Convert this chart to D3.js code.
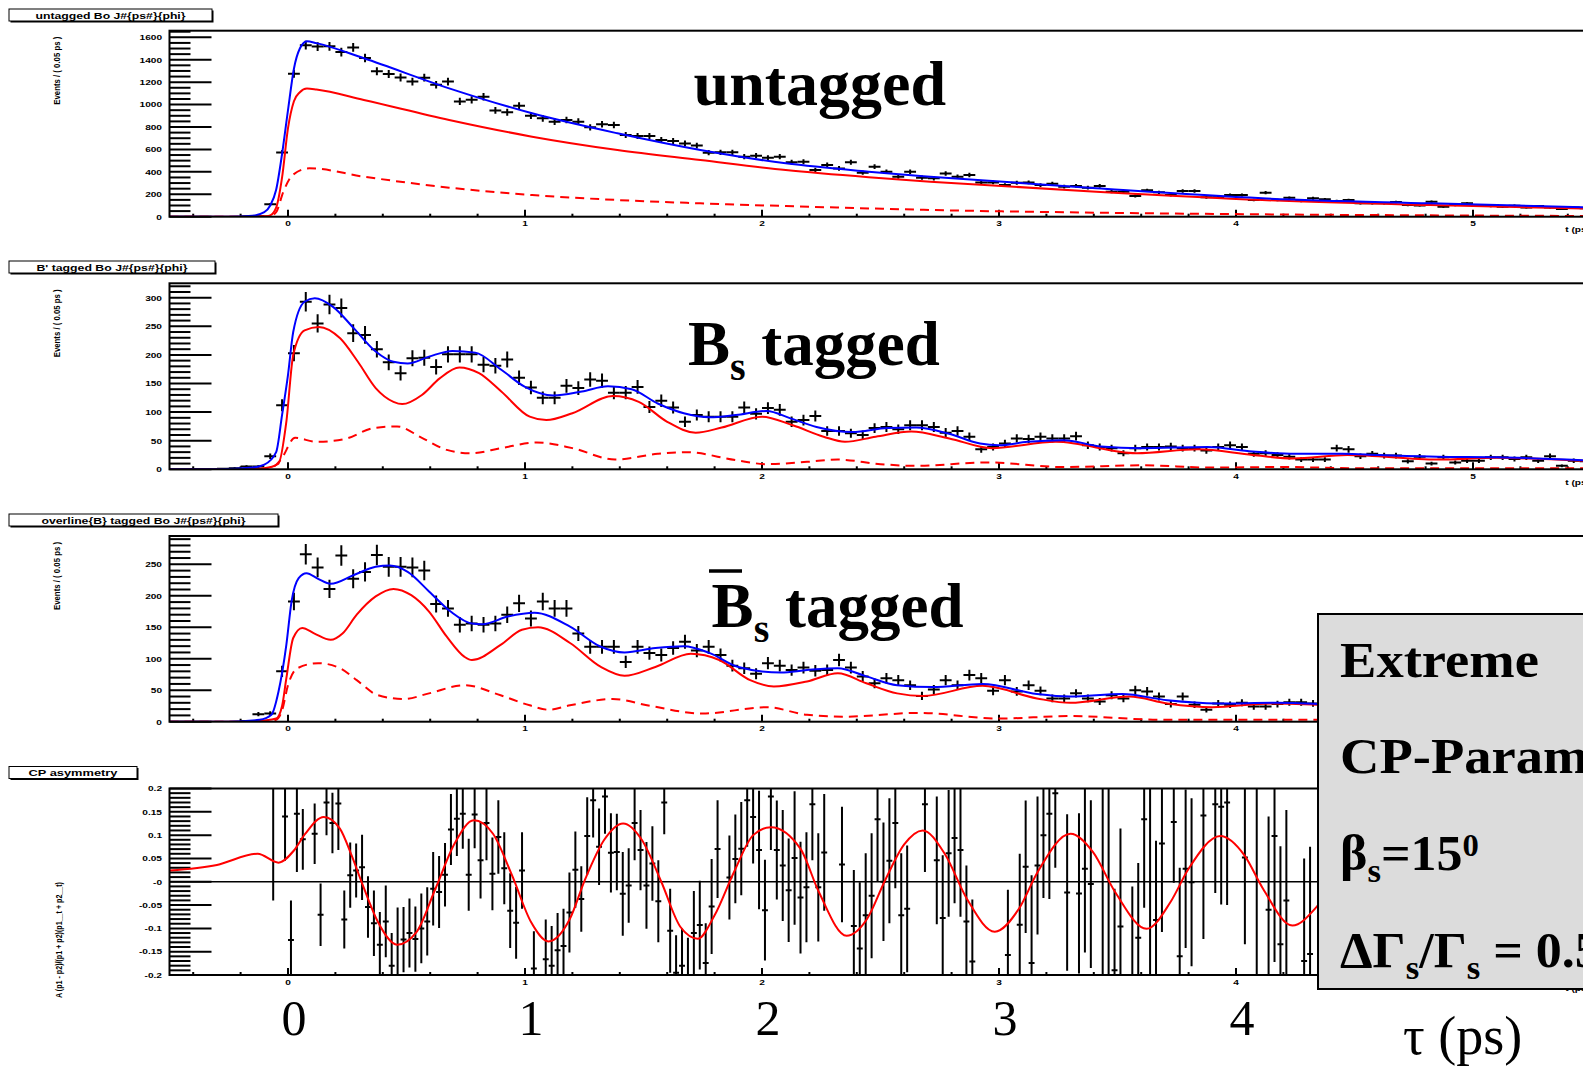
<!DOCTYPE html>
<html>
<head>
<meta charset="utf-8">
<script src="https://cdn.jsdelivr.net/npm/d3@7"></script>
<style>
body { margin: 0; background: #fff; overflow: hidden; }
</style>
</head>
<body>
<div id="chart"></div>
<script>
// histogram binning (0.05 ps bins from -0.5) and counts
var binStart = -0.5, binWidth = 0.05;
var untaggedCounts = [0,0,0,0,0,0,1,
  5,110,572,1275,1530,1517,1520,1468,1510,1415,1297,1272,1242,1205,1240,1177,1205,1028,1043,1070,948,932,990,
  901,877,848,863,848,797,824,818,729,720,720,684,675,654,634,571,574,574,535,544,
  526,535,485,491,416,461,431,485,393,446,402,357,402,348,342,386,357,372,306,306,
  282,303,306,282,294,268,274,259,274,223,223,185,235,217,193,229,229,173,173,193,
  193,149,214,149,168,140,165,155,140,149,119,119,119,131,104,101,134,89,104,119,
  104,95,89,98,83,95,83,68,83,75];
var bsCounts = [0,0,0,0,1,
  2,5,5,23,112,203,293,255,288,282,238,235,210,187,168,194,195,179,201,201,201,183,181,192,160,
  143,125,125,146,142,157,155,134,134,144,109,120,108,83,95,92,92,92,108,97,
  107,104,83,86,93,67,67,63,60,72,74,70,77,77,74,64,67,57,35,39,
  45,54,53,57,54,54,58,42,39,37,28,37,39,39,40,37,37,33,39,42,
  39,27,28,25,22,17,17,17,37,35,23,27,24,24,14,22,10,21,12,15,
  15,21,21,18,21,15,23,6,15,14];
var bsbarCounts = [0,0,0,0,0,0,1,
  12,13,80,191,266,245,211,264,227,238,265,246,246,245,240,187,180,154,156,154,156,170,188,
  164,191,180,180,140,119,119,119,95,119,109,106,117,127,113,119,106,89,85,76,
  93,89,82,86,81,82,98,86,72,61,69,66,58,41,51,66,58,74,69,49,
  66,48,58,49,37,37,45,37,32,42,37,50,48,40,28,40,27,19,29,27,
  30,24,24,28,31,31,29];

// fit curves: [t, value] knots
var untaggedTotal = [[-0.5,0],[-0.25,0],[-0.15,8],[-0.1,40],[-0.075,100],[-0.05,240],[-0.025,560],[0,950],[0.025,1320],[0.05,1500],[0.08,1565],[0.12,1548],[0.32,1413],[0.68,1145],[1.03,922],[1.39,744],[1.74,595],[2.1,476],[2.45,402],[2.71,357],[3.41,253],[4.11,164],[4.82,119],[5.5,82]];
var untaggedEven = [[-0.5,0],[-0.2,0],[-0.1,3],[-0.075,12],[-0.05,80],[-0.025,350],[0,790],[0.025,1030],[0.05,1110],[0.08,1143],[0.12,1135],[0.32,1041],[0.68,863],[1.03,714],[1.39,595],[1.74,506],[2.1,416],[2.45,352],[2.71,312],[3.41,223],[4.11,149],[4.82,104],[5.5,71]];
var untaggedOdd = [[-0.5,0],[-0.15,0],[-0.075,5],[-0.05,40],[-0.02,220],[0.02,372],[0.09,432],[0.32,357],[0.68,259],[1.03,193],[1.39,149],[1.74,119],[2.1,95],[2.45,74],[2.71,60],[3.41,36],[4.11,21],[4.82,12],[5.5,6]];

var bsTotal = [[-0.5,0],[-0.3,0],[-0.15,3],[-0.1,8],[-0.05,30],[-0.025,95],[0,165],[0.022,240],[0.07,293],[0.113,299],[0.19,284],[0.279,246],[0.37,206],[0.445,188],[0.505,185],[0.595,197],[0.694,207],[0.79,204],[0.9,174],[1.0,144],[1.12,129],[1.24,136],[1.35,145],[1.45,140],[1.56,115],[1.67,98],[1.78,91],[1.89,95],[2.02,102],[2.12,89],[2.23,74],[2.38,65],[2.53,72],[2.65,73],[2.79,62],[2.92,45],[3.0,42],[3.12,48],[3.27,51],[3.43,40],[3.6,37],[3.88,39],[4.07,31],[4.25,27],[4.45,27],[4.6,25],[4.85,22],[5.1,21],[5.5,15]];
var bsEven = [[-0.5,0],[-0.2,0],[-0.1,2],[-0.04,10],[-0.007,83],[0.022,200],[0.07,243],[0.13,249],[0.22,229],[0.295,188],[0.37,142],[0.445,118],[0.482,114],[0.565,130],[0.64,159],[0.723,178],[0.806,168],[0.9,136],[1.02,92],[1.09,86],[1.2,98],[1.37,128],[1.48,118],[1.6,83],[1.72,64],[1.83,73],[2.0,92],[2.13,77],[2.26,57],[2.35,48],[2.48,57],[2.63,66],[2.79,54],[2.97,37],[3.24,48],[3.58,28],[3.84,35],[4.07,25],[4.24,19],[4.47,25],[4.85,17],[5.1,20],[5.5,14]];
var bsOdd = [[-0.5,0],[-0.12,0],[-0.06,5],[-0.03,17],[0.03,55],[0.12,48],[0.24,53],[0.36,72],[0.46,75],[0.565,55],[0.67,34],[0.77,28],[0.9,37],[1.05,47],[1.2,37],[1.38,17],[1.56,27],[1.68,30],[1.89,16],[2.02,9],[2.19,13],[2.32,17],[2.5,9],[2.65,6],[2.95,12],[3.27,4],[3.6,7],[3.9,3],[4.2,4],[4.5,2],[5.5,2]];

var bsbarTotal = [[-0.5,0],[-0.25,0],[-0.12,3],[-0.07,11],[-0.04,48],[-0.007,122],[0.015,191],[0.045,228],[0.078,236],[0.127,227],[0.18,219],[0.278,233],[0.37,246],[0.43,248],[0.505,238],[0.595,207],[0.686,175],[0.776,156],[0.82,155],[0.927,167],[1.04,173],[1.19,151],[1.32,119],[1.42,110],[1.55,117],[1.67,120],[1.78,109],[1.9,87],[2.08,78],[2.19,82],[2.32,85],[2.44,72],[2.57,58],[2.72,55],[2.93,60],[3.16,44],[3.3,40],[3.52,44],[3.71,34],[3.92,29],[4.17,30],[4.4,27]];
var bsbarEven = [[-0.5,0],[-0.2,0],[-0.1,2],[-0.05,5],[-0.025,25],[-0.007,69],[0.022,133],[0.06,149],[0.112,140],[0.18,130],[0.23,140],[0.29,170],[0.37,199],[0.445,211],[0.52,201],[0.595,175],[0.67,135],[0.745,103],[0.776,98],[0.897,122],[0.987,146],[1.055,150],[1.19,125],[1.32,87],[1.42,73],[1.55,87],[1.7,108],[1.82,98],[1.95,66],[2.05,56],[2.19,64],[2.32,77],[2.44,61],[2.57,45],[2.68,41],[2.93,57],[3.16,37],[3.3,30],[3.55,40],[3.71,29],[3.9,23],[4.15,29],[4.4,26]];
var bsbarOdd = [[-0.5,0],[-0.1,0],[-0.05,3],[-0.025,18],[0.0,58],[0.04,85],[0.127,93],[0.22,85],[0.29,66],[0.38,42],[0.49,36],[0.595,45],[0.745,58],[0.897,42],[1.02,26],[1.1,19],[1.19,26],[1.37,36],[1.53,25],[1.75,13],[2.02,23],[2.19,11],[2.35,8],[2.66,14],[3.0,5],[3.3,9],[3.69,3],[4.4,3]];

// CP asymmetry: 0.025 ps bins starting at -0.075, null = no marker
var asymStart = -0.075, asymWidth = 0.025;
var asymValues = [0.22,null,0.14,-0.125,0.146,0.091,null,0.103,-0.071,0.17,
  0.126,0.168,-0.081,0.014,0.024,0.031,-0.054,-0.089,-0.135,-0.085,
  -0.18,-0.22,-0.124,-0.11,-0.123,-0.1,-0.085,-0.015,-0.022,0.015,
  0.112,0.135,0.146,0.015,0.144,0.046,0.126,0.017,0.096,0.029,
  -0.062,-0.088,0.024,null,-0.186,null,-0.166,-0.18,-0.147,-0.138,
  -0.066,0.026,-0.037,0.098,0.175,0.075,0.183,0.062,0.064,-0.026,
  -0.008,0.126,0.068,-0.008,0.039,-0.042,0.17,-0.105,-0.195,-0.18,
  -0.21,-0.11,-0.093,-0.174,-0.053,0.07,null,0.009,0.049,0.071,
  0.175,0.139,0.068,-0.061,0.183,0.068,0.035,-0.018,0.051,-0.034,
  -0.012,0.166,-0.012,0.063,null,null,0.037,null,-0.095,-0.143,
  -0.072,-0.03,0.134,0.0,0.045,0.126,-0.072,-0.058,null,null,
  0.166,null,0.046,-0.078,0.061,0.094,0.068,-0.085,-0.171,null,
  null,null,null,null,-0.157,null,-0.092,0.032,-0.174,0.035,
  0.1,0.146,0.19,null,-0.023,null,-0.025,0.028,-0.005,null,
  0.21,0.21,-0.19,-0.096,null,-0.22,-0.12,0.134,0.21,-0.082,
  0.082,null,0.128,-0.16,0.028,-0.001,null,0.142,null,0.166,
  0.161,0.17,null,null,0.052,null,0.21,null,-0.06,0.098,
  -0.134,-0.04,null,null,-0.17,-0.155];
var asymErrors = [0.26,null,0.095,0.085,0.125,0.065,null,0.065,0.067,0.07,
  0.065,0.1,0.062,0.07,0.058,0.07,0.066,0.07,0.07,0.077,
  0.07,0.165,0.07,0.074,0.07,0.075,0.073,0.079,0.077,0.068,
  0.076,0.08,0.075,0.077,0.072,0.082,0.08,0.078,0.079,0.077,
  0.08,0.077,0.082,null,0.08,null,0.085,0.085,0.08,0.08,
  0.086,0.082,0.07,0.083,0.08,0.082,0.08,0.085,0.082,0.09,
  0.08,0.08,0.086,0.093,0.08,0.088,0.068,0.09,0.08,0.08,
  0.09,0.09,0.095,0.085,0.102,0.105,null,0.09,0.095,0.1,
  0.1,0.1,0.127,0.108,0.115,0.106,0.119,0.111,0.143,0.12,
  0.118,0.12,0.116,0.125,null,null,0.124,null,0.12,0.142,
  0.133,0.134,0.133,0.127,0.134,0.14,0.133,0.136,null,null,
  0.145,null,0.137,0.135,0.136,0.14,0.143,0.12,0.133,null,
  null,null,null,null,0.14,null,0.152,0.142,0.188,0.148,
  0.135,0.183,0.16,null,0.168,null,0.172,0.18,0.18,null,
  0.45,0.45,0.175,0.21,null,0.21,0.16,0.19,0.45,0.17,
  0.19,null,0.13,0.19,0.17,0.18,null,0.265,null,0.19,
  0.21,0.22,null,null,0.186,null,0.45,null,0.2,0.27,
  0.21,0.194,null,null,0.22,0.23];
var asymCurve = [[-0.5,0.024],[-0.3,0.036],[-0.128,0.06],[-0.04,0.041],[0.025,0.067],[0.073,0.103],[0.151,0.139],[0.219,0.114],[0.268,0.057],[0.316,-0.008],[0.38,-0.087],[0.461,-0.135],[0.542,-0.108],[0.622,-0.015],[0.703,0.082],[0.784,0.132],[0.865,0.103],[0.945,0.014],[1.026,-0.087],[1.099,-0.128],[1.189,-0.08],[1.252,0.003],[1.333,0.089],[1.414,0.125],[1.494,0.089],[1.575,0.0],[1.656,-0.097],[1.729,-0.122],[1.80,-0.072],[1.882,0.021],[1.963,0.1],[2.037,0.117],[2.162,0.071],[2.24,-0.022],[2.357,-0.116],[2.443,-0.08],[2.522,0.006],[2.60,0.08],[2.678,0.11],[2.771,0.06],[2.865,-0.037],[2.982,-0.107],[3.084,-0.058],[3.162,0.02],[3.302,0.103],[3.396,0.064],[3.49,-0.022],[3.623,-0.101],[3.723,-0.044],[3.80,0.028],[3.934,0.098],[4.035,0.057],[4.114,-0.015],[4.238,-0.094],[4.34,-0.054],[4.45,0.03]];

// tick labels
var xTickLabels = ['0','1','2','3','4','5'];
var untaggedTicks = ['0','200','400','600','800','1000','1200','1400','1600'];
var bsTicks = ['0','50','100','150','200','250','300'];
var bsbarTicks = ['0','50','100','150','200','250'];
var asymTicks = ['-0.2','-0.15','-0.1','-0.05','-0','0.05','0.1','0.15','0.2'];
var bigTickLabels = ['0','1','2','3','4'];

var width = 1583, height = 1068;
var boxLeft = 1318; // left edge of the parameter box, covers the lower right
var svg = d3.select('#chart').append('svg')
    .attr('width', width)
    .attr('height', height)
    .style('font-family', '"Liberation Sans", Arial, sans-serif');

var x = d3.scaleLinear().domain([-0.5, 5.5]).range([169.5, 1591.5]);

var panels = [
  {id: 'p1', title: 'untagged Bo J#{ps#}{phi}', boxW: 203, textW: 150, boxY: 9,
   top: 30.7, bottom: 216.7, domain: [0, 1659], major: 200, minor: 50, labels: untaggedTicks,
   ytitle: 'Events / ( 0.05 ps )', covered: false},
  {id: 'p2', title: "B' tagged Bo J#{ps#}{phi}", boxW: 206, textW: 151, boxY: 261,
   top: 283.3, bottom: 469.3, domain: [0, 325.2], major: 50, minor: 10, labels: bsTicks,
   ytitle: 'Events / ( 0.05 ps )', covered: false},
  {id: 'p3', title: 'overline{B} tagged Bo J#{ps#}{phi}', boxW: 269, textW: 204, boxY: 514,
   top: 536, bottom: 721.7, domain: [0, 295], major: 50, minor: 10, labels: bsbarTicks,
   ytitle: 'Events / ( 0.05 ps )', covered: true},
  {id: 'p4', title: 'CP asymmetry', boxW: 128, textW: 89, boxY: 766.5,
   top: 788.5, bottom: 975, domain: [-0.2, 0.2], major: 0.05, minor: 0.01, labels: asymTicks,
   ytitle: 'A (p1 - p2)/(p1 + p2)(p1__t + p2__t)', covered: true}
];

panels.forEach(function(p){
  p.y = d3.scaleLinear().domain(p.domain).range([p.bottom, p.top]);
  svg.append('clipPath').attr('id', 'clip' + p.id)
    .append('rect')
      .attr('x', x(-0.5)).attr('y', p.top)
      .attr('width', x(5.5) - x(-0.5)).attr('height', p.bottom - p.top);
});

function drawAxes(p) {
  var g = svg.append('g');
  var x0 = x(-0.5);
  // title pave with shadow
  g.append('rect').attr('x', 10.5).attr('y', p.boxY + 1.5).attr('width', p.boxW).attr('height', 12).attr('fill', '#000');
  g.append('rect').attr('x', 9).attr('y', p.boxY).attr('width', p.boxW).attr('height', 12)
    .attr('fill', '#fff').attr('stroke', '#000').attr('stroke-width', 1);
  g.append('text')
    .attr('x', 9 + p.boxW / 2).attr('y', p.boxY + 9.5)
    .attr('text-anchor', 'middle')
    .attr('textLength', p.textW).attr('lengthAdjust', 'spacingAndGlyphs')
    .style('font-size', '9px').style('font-weight', 'bold')
    .text(p.title);
  // y ticks inside the frame
  var lo = p.domain[0], hi = p.domain[1];
  var minors = d3.range(Math.ceil(lo / p.minor - 1e-6), Math.floor(hi / p.minor + 1e-6) + 1).map(function(k){ return k * p.minor; });
  minors.forEach(function(v){
    var isMajor = Math.abs(v / p.major - Math.round(v / p.major)) < 1e-6;
    g.append('line')
      .attr('x1', x0).attr('x2', x0 + (isMajor ? 42 : 21))
      .attr('y1', p.y(v)).attr('y2', p.y(v))
      .attr('stroke', '#000').attr('stroke-width', 2);
  });
  p.labels.forEach(function(lab, i){
    var v = lo + i * p.major;
    g.append('text')
      .attr('transform', 'translate(162,' + (p.y(v) + 2.8) + ') scale(1.35,1)')
      .attr('text-anchor', 'end')
      .style('font-size', '7.5px').style('font-weight', 'bold')
      .text(lab);
  });
  // x ticks at the bottom
  d3.range(-2, 28).forEach(function(k){
    var t = k * 0.2;
    if (t > 5.5) return;
    var isMajor = k % 5 === 0;
    g.append('line')
      .attr('x1', x(t)).attr('x2', x(t))
      .attr('y1', p.bottom).attr('y2', p.bottom - (isMajor ? 7 : 3))
      .attr('stroke', '#000').attr('stroke-width', 2);
  });
  xTickLabels.forEach(function(lab, i){
    if (p.covered && x(i) > boxLeft) return; // hidden under the box
    g.append('text')
      .attr('transform', 'translate(' + x(i) + ',' + (p.bottom + 9.5) + ') scale(1.35,1)')
      .attr('text-anchor', 'middle')
      .style('font-size', '7.5px').style('font-weight', 'bold')
      .text(lab);
  });
  if (p.id !== 'p3') {
    g.append('text')
      .attr('transform', 'translate(1590,' + (p.bottom + 15.5) + ') scale(1.35,1)')
      .attr('text-anchor', 'end')
      .style('font-size', '7.5px').style('font-weight', 'bold')
      .text('t (ps)');
  }
  // y title, rotated
  if (p.id === 'p4') {
    g.append('text')
      .attr('transform', 'translate(61.5,882) rotate(-90)')
      .attr('text-anchor', 'end')
      .attr('textLength', 116).attr('lengthAdjust', 'spacingAndGlyphs')
      .style('font-size', '9px').style('font-weight', 'bold')
      .text(p.ytitle);
  } else {
    g.append('text')
      .attr('transform', 'translate(60,' + (p.top + 6) + ') rotate(-90)')
      .attr('text-anchor', 'end')
      .attr('textLength', 68).attr('lengthAdjust', 'spacingAndGlyphs')
      .style('font-size', '8.5px').style('font-weight', 'bold')
      .text(p.ytitle);
  }
}

function drawFrame(p) {
  svg.append('rect')
    .attr('x', x(-0.5)).attr('y', p.top)
    .attr('width', x(5.5) - x(-0.5)).attr('height', p.bottom - p.top)
    .attr('fill', 'none').attr('stroke', '#000').attr('stroke-width', 2);
}

function drawHisto(p, counts) {
  var g = svg.append('g').attr('clip-path', 'url(#clip' + p.id + ')');
  counts.forEach(function(n, i){
    if (!n) return;
    var t0 = binStart + i * binWidth, t1 = t0 + binWidth, tc = t0 + binWidth / 2;
    var e = Math.sqrt(n); // Poisson error bar
    g.append('line')
      .attr('x1', x(t0)).attr('x2', x(t1)).attr('y1', p.y(n)).attr('y2', p.y(n))
      .attr('stroke', '#000').attr('stroke-width', 2);
    g.append('line')
      .attr('x1', x(tc)).attr('x2', x(tc)).attr('y1', p.y(n - e)).attr('y2', p.y(n + e))
      .attr('stroke', '#000').attr('stroke-width', 2);
  });
}

function drawCurve(p, pts, color, dashed) {
  svg.append('path')
    .datum(pts)
    .attr('clip-path', 'url(#clip' + p.id + ')')
    .attr('d', d3.line()
      .curve(d3.curveMonotoneX)
      .x(function(d){ return x(d[0]); })
      .y(function(d){ return p.y(d[1]); }))
    .attr('fill', 'none')
    .attr('stroke', color)
    .attr('stroke-width', 2)
    .attr('stroke-dasharray', dashed ? '9,6' : null);
}

// panel 1
drawAxes(panels[0]);
drawHisto(panels[0], untaggedCounts);
drawCurve(panels[0], untaggedOdd, '#ff0000', true);
drawCurve(panels[0], untaggedEven, '#ff0000', false);
drawCurve(panels[0], untaggedTotal, '#0000ff', false);
drawFrame(panels[0]);

// panel 2
drawAxes(panels[1]);
drawHisto(panels[1], bsCounts);
drawCurve(panels[1], bsOdd, '#ff0000', true);
drawCurve(panels[1], bsEven, '#ff0000', false);
drawCurve(panels[1], bsTotal, '#0000ff', false);
drawFrame(panels[1]);

// panel 3
drawAxes(panels[2]);
drawHisto(panels[2], bsbarCounts);
drawCurve(panels[2], bsbarOdd, '#ff0000', true);
drawCurve(panels[2], bsbarEven, '#ff0000', false);
drawCurve(panels[2], bsbarTotal, '#0000ff', false);
drawFrame(panels[2]);

// panel 4: asymmetry
var p4 = panels[3];
drawAxes(p4);
svg.append('line')
  .attr('x1', x(-0.5)).attr('x2', x(5.5)).attr('y1', p4.y(0)).attr('y2', p4.y(0))
  .attr('stroke', '#000').attr('stroke-width', 1.5);
var ga = svg.append('g').attr('clip-path', 'url(#clipp4)');
asymValues.forEach(function(v, i){
  if (v === null) return;
  var e = asymErrors[i];
  var t0 = asymStart + i * asymWidth, t1 = t0 + asymWidth, tc = t0 + asymWidth / 2;
  ga.append('line')
    .attr('x1', x(t0)).attr('x2', x(t1)).attr('y1', p4.y(v)).attr('y2', p4.y(v))
    .attr('stroke', '#000').attr('stroke-width', 2);
  ga.append('line')
    .attr('x1', x(tc)).attr('x2', x(tc)).attr('y1', p4.y(v - e)).attr('y2', p4.y(v + e))
    .attr('stroke', '#000').attr('stroke-width', 2);
});
drawCurve(p4, asymCurve, '#ff0000', false);
drawFrame(p4);

// big labels inside the panels
var serif = '"Liberation Serif", "Times New Roman", serif';
svg.append('text').attr('x', 693.6).attr('y', 105)
  .style('font-family', serif).style('font-size', '64px').style('font-weight', 'bold')
  .text('untagged');

var t2 = svg.append('text').attr('x', 688).attr('y', 365)
  .style('font-family', serif).style('font-size', '63px').style('font-weight', 'bold');
t2.append('tspan').text('B');
t2.append('tspan').attr('dy', 15).style('font-size', '40px').text('s');
t2.append('tspan').attr('dy', -15).text(' tagged');

var t3 = svg.append('text').attr('x', 711.6).attr('y', 627)
  .style('font-family', serif).style('font-size', '63px').style('font-weight', 'bold');
t3.append('tspan').text('B');
t3.append('tspan').attr('dy', 15).style('font-size', '40px').text('s');
t3.append('tspan').attr('dy', -15).text(' tagged');
svg.append('line').attr('x1', 709).attr('x2', 742).attr('y1', 571).attr('y2', 571)
  .attr('stroke', '#000').attr('stroke-width', 3.5);

// large axis numbers and title under the last panel
bigTickLabels.forEach(function(lab){
  svg.append('text')
    .attr('x', x(+lab) + 6).attr('y', 1035)
    .attr('text-anchor', 'middle')
    .style('font-family', serif).style('font-size', '50px')
    .text(lab);
});
svg.append('text').attr('x', 1403).attr('y', 1054)
  .style('font-family', serif).style('font-size', '54px')
  .text('\u03c4 (ps)');

// parameter box
svg.append('rect').attr('x', boxLeft).attr('y', 614).attr('width', 300).attr('height', 375)
  .attr('fill', '#dcdcdc').attr('stroke', '#000').attr('stroke-width', 2);
var boxWords = svg.append('g')
  .attr('transform', 'translate(1340,0) scale(1.07,1)')
  .style('font-family', serif).style('font-size', '51px').style('font-weight', 'bold');
boxWords.append('text').attr('x', 0).attr('y', 677).text('Extreme');
boxWords.append('text').attr('x', 0).attr('y', 773).text('CP-Parameter');
var boxSymbols = svg.append('g')
  .attr('transform', 'translate(1340,0) scale(1.02,1)')
  .style('font-family', serif).style('font-size', '51px').style('font-weight', 'bold');
var b3 = boxSymbols.append('text').attr('x', 0).attr('y', 870);
b3.append('tspan').text('\u03b2');
b3.append('tspan').attr('dy', 12).style('font-size', '34px').text('s');
b3.append('tspan').attr('dy', -12).text('=15');
b3.append('tspan').attr('dy', -14).style('font-size', '32px').text('0');
var b4 = boxSymbols.append('text').attr('x', 0).attr('y', 967);
b4.append('tspan').text('\u0394\u0393');
b4.append('tspan').attr('dy', 12).style('font-size', '34px').text('s');
b4.append('tspan').attr('dy', -12).text('/\u0393');
b4.append('tspan').attr('dy', 12).style('font-size', '34px').text('s');
b4.append('tspan').attr('dy', -12).text(' = 0.5');
</script>
</body>
</html>
